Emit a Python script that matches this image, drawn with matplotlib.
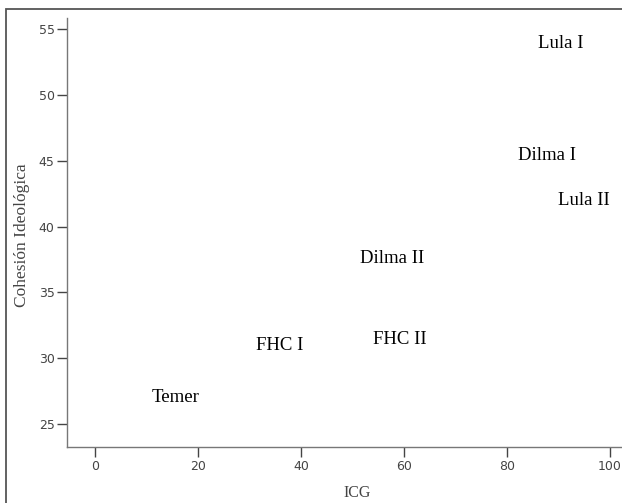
import matplotlib
matplotlib.use("Agg")
import matplotlib.pyplot as plt
from matplotlib.patches import Rectangle

labels = ["Lula I", "Dilma I", "Lula II", "Dilma II", "FHC II", "FHC I", "Temer"]
icg = [90.4, 87.8, 95.0, 57.7, 59.2, 35.9, 15.5]
cohesion = [53.9, 45.4, 42.0, 37.6, 31.4, 31.0, 27.0]
xticks = [0, 20, 40, 60, 80, 100]
yticks = [25, 30, 35, 40, 45, 50, 55]

W, H = 622, 503
fig = plt.figure(figsize=(W / 100, H / 100), dpi=100)
fig.patch.set_facecolor("white")

# outer frame
fig.patches.append(Rectangle((6 / W, -0.1), 1.2, 1 - 9 / H + 0.1,
                             transform=fig.transFigure, fill=False,
                             edgecolor="#555555", linewidth=1.3))

ax = fig.add_axes([67 / W, 1 - 447 / H, 1 - 67 / W, (447 - 18) / H])
ax.set_xlim(-5.54, 102.4)
ax.set_ylim(23.26, 55.83)
ax.set_xticks(xticks)
ax.set_yticks(yticks)
ax.set_xticklabels([str(v) for v in xticks])
ax.set_yticklabels([str(v) for v in yticks])
for s in ["top", "right"]:
    ax.spines[s].set_visible(False)
for s in ["left", "bottom"]:
    ax.spines[s].set_color("#777777")
    ax.spines[s].set_linewidth(1.0)
ax.tick_params(axis="both", direction="out", length=7, width=1.0,
               color="#444444", labelsize=9, labelcolor="#444444", pad=2)

for lab, x, y in zip(labels, icg, cohesion):
    ax.text(x, y, lab, ha="center", va="center", fontsize=13.5,
            family="Liberation Serif", color="black")

fig.text(357 / W, 1 - 493 / H, "ICG", ha="center", va="center",
         fontsize=11.5, family="Liberation Serif", color="#444444")
fig.text(22 / W, 1 - 235 / H, "Cohesión Ideológica", ha="center", va="center",
         rotation=90, fontsize=12.5, family="Liberation Serif", color="#444444")

fig.savefig("out.png", dpi=100)
